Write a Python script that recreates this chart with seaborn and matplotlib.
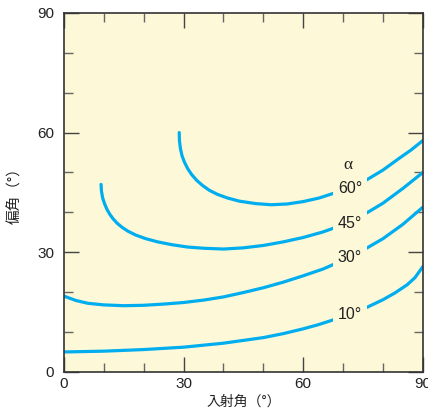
import numpy as np
import pandas as pd
import matplotlib
matplotlib.use('Agg')
import matplotlib.pyplot as plt
from matplotlib.ticker import MultipleLocator
import seaborn as sns

# Deviation vs incidence angle for several prism apex angles
inc_10 = [0, 10, 20, 30, 40, 50, 55, 60, 64, 68, 72, 76, 80, 83, 86, 88, 90]
dev_10 = [5.0, 5.2, 5.6, 6.2, 7.2, 8.6, 9.6, 10.8, 11.9, 13.2, 14.6, 16.2, 18.1,
          19.8, 21.8, 23.6, 26.4]

inc_30 = [0, 3, 6, 10, 15, 20, 25, 30, 35, 40, 45, 50, 55, 60, 65, 70, 75, 80, 85, 90]
dev_30 = [19.0, 17.9, 17.2, 16.8, 16.6, 16.7, 17.0, 17.4, 18.0, 18.8, 19.9, 21.1,
          22.5, 24.1, 25.8, 28.0, 30.5, 33.4, 37.0, 41.3]

inc_45 = [9.3, 9.4, 9.7, 10.2, 10.8, 11.5, 12.3, 13.3, 14.5, 16, 18, 20.5, 23.5,
          27, 31, 35, 40, 45, 50, 55, 60, 65, 70, 75, 80, 85, 90]
dev_45 = [47.0, 45.3, 43.6, 42.1, 40.7, 39.5, 38.4, 37.3, 36.3, 35.3, 34.3, 33.4,
          32.6, 31.9, 31.3, 31.0, 30.8, 31.1, 31.7, 32.6, 33.7, 35.1, 36.9, 39.3,
          42.3, 46.0, 50.0]

inc_60 = [28.9, 28.95, 29.2, 29.6, 30.2, 31.0, 32.0, 33.3, 34.8, 36.5, 38.5, 41,
          44, 48, 52, 56, 60, 64, 68, 72, 76, 80, 84, 87, 90]
dev_60 = [60.0, 58.0, 56.0, 54.2, 52.6, 51.0, 49.5, 48.0, 46.7, 45.5, 44.5, 43.6,
          42.8, 42.2, 41.9, 42.1, 42.7, 43.6, 44.9, 46.3, 48.2, 50.6, 53.5, 55.6, 58.0]

alpha_labels = ['10°', '30°', '45°', '60°']
label_pos = [(71.7, 14.5), (71.7, 28.6), (71.7, 37.3), (71.7, 45.9)]

bg = '#fdf8d8'
line_color = '#00aeef'

frames = []
for name, x, y in zip(alpha_labels, [inc_10, inc_30, inc_45, inc_60],
                      [dev_10, dev_30, dev_45, dev_60]):
    frames.append(pd.DataFrame({'incidence': x, 'deviation': y, 'alpha': name}))
df = pd.concat(frames, ignore_index=True)

sns.set_theme(style='ticks')
plt.rcParams['font.family'] = ['Liberation Sans', 'Noto Sans CJK JP', 'DejaVu Sans']

fig = plt.figure(figsize=(4.28, 4.16), dpi=100)
ax = fig.add_axes([0.1495, 0.106, 0.8385, 0.863])
ax.set_facecolor(bg)

sns.lineplot(data=df, x='incidence', y='deviation', hue='alpha',
             palette=[line_color] * 4, legend=False, linewidth=2.3, ax=ax)

for lab, (x, y) in zip(alpha_labels, label_pos):
    ax.text(x, y, lab, fontsize=11.5, color='#222', ha='center', va='center',
            bbox=dict(boxstyle='square,pad=0.3', facecolor=bg, edgecolor='none'))
ax.text(71.3, 51.9, 'α', fontsize=12.5, color='#222', ha='center', va='center',
        family='Liberation Serif')

ax.set_xlim(0, 90)
ax.set_ylim(0, 90)
ax.xaxis.set_major_locator(MultipleLocator(30))
ax.yaxis.set_major_locator(MultipleLocator(30))
ax.xaxis.set_minor_locator(MultipleLocator(10))
ax.yaxis.set_minor_locator(MultipleLocator(10))
ax.tick_params(which='both', direction='in', top=True, right=True, color='#444',
               labelsize=11, labelcolor='#222')
ax.tick_params(which='major', length=11, width=1.0)
ax.tick_params(which='minor', length=6.5, width=1.0, color='#666')
ax.tick_params(axis='y', pad=7)
ax.tick_params(axis='x', pad=4)
for s in ax.spines.values():
    s.set_color('#333')
    s.set_linewidth(1.2)

ax.set_xlabel('入射角（°）', fontsize=10, family=['Noto Sans CJK JP'], color='#222',
              labelpad=2)
ax.set_ylabel('偏角（°）', fontsize=10.5, family=['Noto Sans CJK JP'], color='#222',
              labelpad=11)

fig.savefig('out.png', dpi=100)
